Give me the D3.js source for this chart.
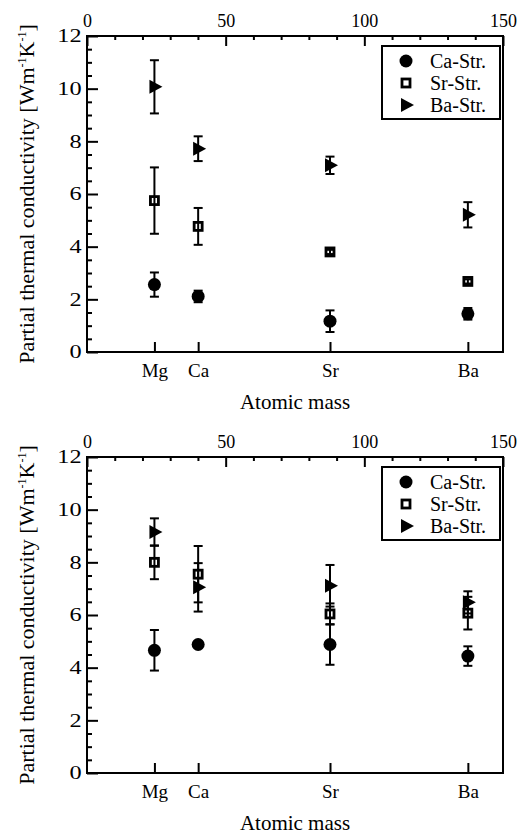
<!DOCTYPE html>
<html>
<head>
<meta charset="utf-8" />
<style>
  body { margin: 0; background: #fff; }
  svg text { font-family: "Liberation Serif", "Times New Roman", serif; fill: #000; }
</style>
</head>
<body>
<svg width="530" height="834"></svg>
<script src="https://cdn.jsdelivr.net/npm/d3@7"></script>
<script>
// elements on the bottom axis, placed at their atomic mass
var elements = ["Mg", "Ca", "Sr", "Ba"];
var atomicMass = [24.31, 40.08, 87.62, 137.33];
var seriesNames = ["Ca-Str.", "Sr-Str.", "Ba-Str."];
var seriesShapes = ["circle", "square", "triangle"];

// upper panel values and error half-widths
var topCa = [2.56, 2.11, 1.17, 1.45];
var topCaErr = [0.46, 0.22, 0.41, 0.22];
var topSr = [5.75, 4.77, 3.80, 2.68];
var topSrErr = [1.26, 0.70, 0.08, 0.08];
var topBa = [10.07, 7.72, 7.09, 5.21];
var topBaErr = [1.01, 0.47, 0.33, 0.48];

// lower panel values and error half-widths
var botCa = [4.66, 4.88, 4.88, 4.44];
var botCaErr = [0.77, 0.08, 0.77, 0.37];
var botSr = [8.00, 7.55, 6.04, 6.07];
var botSrErr = [0.64, 1.07, 0.40, 0.62];
var botBa = [9.15, 7.05, 7.11, 6.48];
var botBaErr = [0.52, 0.92, 0.79, 0.42];

var yMajor = [0, 2, 4, 6, 8, 10, 12];
var xMajor = [0, 50, 100, 150];

var svg = d3.select("svg");
var left = 87, right = 503, plotH = 316;

var x = d3.scaleLinear().domain([0, 150]).range([left, right]);

function drawPanel(top, vals, errs) {
  var y = d3.scaleLinear().domain([0, 12]).range([top + plotH, top]);
  var g = svg.append("g");

  // frame
  g.append("rect")
    .attr("x", left).attr("y", top)
    .attr("width", right - left).attr("height", plotH)
    .attr("fill", "none").attr("stroke", "#000").attr("stroke-width", 2);

  // left axis, ticks pointing inwards
  var la = g.append("g").attr("transform", "translate(" + left + ",0)")
    .call(d3.axisLeft(y).tickValues(yMajor).tickSizeInner(-11).tickSizeOuter(0).tickPadding(4));
  la.select(".domain").remove();
  la.selectAll("line").attr("stroke-width", 2);
  la.selectAll("text").attr("font-size", 18)
    .attr("transform", "scale(1.35,1)");

  var lm = g.append("g").attr("transform", "translate(" + left + ",0)")
    .call(d3.axisLeft(y).tickValues(d3.range(0.5, 12, 1).concat(d3.range(1, 12, 2)))
      .tickSizeInner(-5).tickSizeOuter(0).tickFormat(""));
  lm.select(".domain").remove();
  lm.selectAll("line").attr("stroke-width", 2);

  // top axis (atomic mass scale)
  var ta = g.append("g").attr("transform", "translate(0," + top + ")")
    .call(d3.axisTop(x).tickValues(xMajor).tickSizeInner(-10).tickSizeOuter(0).tickPadding(9));
  ta.select(".domain").remove();
  ta.selectAll("line").attr("stroke-width", 2);
  ta.selectAll("text").attr("font-size", 18);

  var tm = g.append("g").attr("transform", "translate(0," + top + ")")
    .call(d3.axisTop(x).tickValues(d3.range(10, 150, 10).filter(function (d) { return d % 50; }))
      .tickSizeInner(-4).tickSizeOuter(0).tickFormat(""));
  tm.select(".domain").remove();
  tm.selectAll("line").attr("stroke-width", 2);

  // bottom axis with element names
  var ba = g.append("g").attr("transform", "translate(0," + (top + plotH) + ")")
    .call(d3.axisBottom(x).tickValues(atomicMass).tickSizeInner(-10).tickSizeOuter(0).tickPadding(12)
      .tickFormat(function (d, i) { return elements[i]; }));
  ba.select(".domain").remove();
  ba.selectAll("line").attr("stroke-width", 2);
  ba.selectAll("text").attr("font-size", 19);

  // axis titles
  g.append("text")
    .attr("x", (left + right) / 2).attr("y", top + plotH + 57)
    .attr("text-anchor", "middle").attr("font-size", 21)
    .text("Atomic mass");

  var yl = g.append("text")
    .attr("transform", "translate(34," + (top + plotH / 2) + ") rotate(-90)")
    .attr("text-anchor", "middle").attr("font-size", 22);
  yl.append("tspan").text("Partial thermal conductivity [Wm");
  yl.append("tspan").attr("font-size", 12).attr("dy", -8).text("-1");
  yl.append("tspan").attr("dy", 8).text("K");
  yl.append("tspan").attr("font-size", 12).attr("dy", -8).text("-1");
  yl.append("tspan").attr("dy", 8).text("]");

  // points
  vals.forEach(function (series, s) {
    var pts = series.map(function (v, i) {
      return { m: atomicMass[i], v: v, e: errs[s][i] };
    });
    var sg = g.append("g");
    drawMarkers(sg, pts, seriesShapes[s], y);

    // error bars
    var eb = sg.selectAll(".err").data(pts).enter().append("g");
    eb.append("line")
      .attr("x1", function (d) { return x(d.m); }).attr("x2", function (d) { return x(d.m); })
      .attr("y1", function (d) { return y(d.v + d.e); }).attr("y2", function (d) { return y(d.v - d.e); });
    eb.append("line")
      .attr("x1", function (d) { return x(d.m) - 4.5; }).attr("x2", function (d) { return x(d.m) + 4.5; })
      .attr("y1", function (d) { return y(d.v + d.e); }).attr("y2", function (d) { return y(d.v + d.e); });
    eb.append("line")
      .attr("x1", function (d) { return x(d.m) - 4.5; }).attr("x2", function (d) { return x(d.m) + 4.5; })
      .attr("y1", function (d) { return y(d.v - d.e); }).attr("y2", function (d) { return y(d.v - d.e); });
    eb.selectAll("line").attr("stroke", "#000").attr("stroke-width", 2);
  });

  // legend
  var lg = g.append("g");
  lg.append("rect")
    .attr("x", 382).attr("y", top + 10).attr("width", 118).attr("height", 73)
    .attr("fill", "#fff").attr("stroke", "#000").attr("stroke-width", 2);
  seriesNames.forEach(function (name, i) {
    var cy = top + 25 + i * 22;
    drawMarkers(lg, [{ px: 406, py: cy }], seriesShapes[i], null);
    lg.append("text").attr("x", 430).attr("y", cy).attr("dy", "0.34em")
      .attr("font-size", 20).text(name);
  });
}

function drawMarkers(sel, pts, shape, y) {
  function px(d) { return d.px !== undefined ? d.px : x(d.m); }
  function py(d) { return d.py !== undefined ? d.py : y(d.v); }
  if (shape === "circle") {
    sel.selectAll(".c").data(pts).enter().append("circle")
      .attr("cx", px).attr("cy", py).attr("r", 6.5).attr("fill", "#000");
  } else if (shape === "square") {
    sel.selectAll(".s").data(pts).enter().append("rect")
      .attr("x", function (d) { return px(d) - 4; }).attr("y", function (d) { return py(d) - 4; })
      .attr("width", 8).attr("height", 8)
      .attr("fill", "none").attr("stroke", "#000").attr("stroke-width", 2.8);
  } else {
    sel.selectAll(".t").data(pts).enter().append("path")
      .attr("d", function (d) {
        var cx = px(d), cy = py(d);
        return "M" + (cx - 5) + "," + (cy - 7) + "L" + (cx + 8) + "," + cy + "L" + (cx - 5) + "," + (cy + 7) + "Z";
      })
      .attr("fill", "#000");
  }
}

drawPanel(36, [topCa, topSr, topBa], [topCaErr, topSrErr, topBaErr]);
drawPanel(457, [botCa, botSr, botBa], [botCaErr, botSrErr, botBaErr]);
</script>
</body>
</html>
